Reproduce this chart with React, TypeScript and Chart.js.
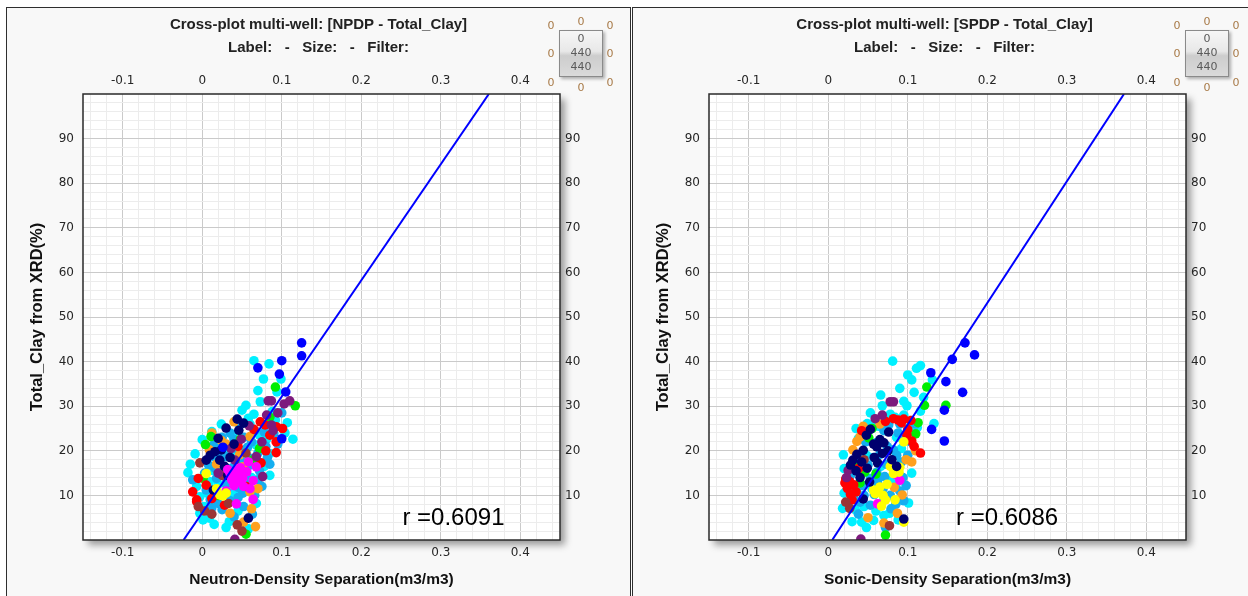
import React, { useEffect, useRef } from 'react';
import { Chart, registerables } from 'chart.js';

Chart.register(...registerables);

// ---------------- axis definitions ----------------
const xRange = [-0.15, 0.45];
const yRange = [0, 100];
const xMajorTicks = [-0.1, 0, 0.1, 0.2, 0.3, 0.4];
const xTickLabels = ['-0.1', '0', '0.1', '0.2', '0.3', '0.4'];
const yMajorTicks = [10, 20, 30, 40, 50, 60, 70, 80, 90];
const yTickLabels = ['10', '20', '30', '40', '50', '60', '70', '80', '90'];

// ---------------- left plot: NPDP vs Total_Clay ----------------
const npdpCyan = [[0.065,40.2],[0.084,39.5],[0.099,36.1],[0.077,36.1],[0.094,33.2],[0.073,31.0],[0.055,30.2],[0.050,29.1],[0.065,28.2],[0.058,27.3],[0.092,26.9],[0.107,26.3],[0.012,24.3],[0.114,22.6],[-0.009,19.3],[-0.018,15.1],[0.038,23.5],[0.072,23.5],[0.081,22.6],[0.068,21.3],[0.020,21.3],[0.033,20.2],[0.043,19.8],[0.085,19.4],[0.009,13.1],[-0.003,9.7],[0.037,10.5],[0.068,8.2],[-0.003,6.0],[0.001,4.5],[0.034,4.1],[0.009,4.9],[0.002,7.5],[0.060,26.0],[0.050,16.0],[0.078,16.5],[0.020,12.5],[0.045,6.5],[-0.007,12.0],[0.015,15.5],[0.062,14.0],[0.030,2.8],[0.006,10.5],[0.024,26.0],[0.088,28.8],[0.104,24.0],[0.070,33.5],[0.048,11.0],[0.015,3.5],[0.058,2.5],[0.085,14.5],[-0.015,17.0],[0.000,22.5]];
const npdpSky = [[0.054,20.2],[0.060,18.3],[0.030,18.7],[0.014,18.7],[0.016,16.1],[0.024,16.8],[0.028,14.2],[0.060,16.8],[0.072,15.5],[0.005,11.2],[0.051,10.5],[0.020,8.2],[0.040,22.5],[0.048,18.0],[0.038,16.2],[0.055,14.5],[0.070,19.5],[0.080,21.0],[0.090,23.8],[0.066,24.5],[0.025,23.0],[0.030,12.5],[0.045,11.8],[0.010,9.0],[0.058,12.5],[0.075,12.0],[0.085,17.0],[0.062,22.0],[0.042,20.5],[0.018,13.8],[0.035,8.8],[0.052,7.5],[-0.012,13.5],[0.003,15.0],[0.066,10.0],[0.047,25.8],[0.100,28.5],[0.015,21.5],[0.035,24.0],[0.052,23.0],[0.045,9.5],[0.025,6.8],[0.012,7.2],[0.070,13.5],[0.082,18.5],[0.057,20.8],[0.022,19.5],[0.008,16.8],[0.040,5.2],[0.063,5.8],[0.078,24.2],[0.095,21.5]];
const npdpOrange = [[0.024,22.3],[0.060,23.2],[0.009,20.2],[0.047,19.1],[0.051,16.4],[0.060,10.8],[0.035,6.0],[0.052,4.0],[0.030,21.5],[0.070,11.5],[0.062,7.0],[0.018,17.0],[0.040,26.5],[0.012,24.0],[0.067,3.0]];
const npdpGreen = [[0.092,34.3],[0.117,30.1],[0.011,23.2],[0.048,22.6],[0.004,21.4],[0.001,13.8],[0.056,12.0],[0.055,1.3],[0.072,20.5],[0.020,10.0],[0.064,18.0],[0.030,16.0],[0.085,27.5]];
const npdpRed = [[0.073,26.5],[0.079,25.8],[0.093,25.4],[0.101,25.0],[0.093,22.0],[0.093,19.6],[0.074,17.3],[-0.005,13.8],[-0.012,10.8],[-0.007,9.0],[0.012,9.3],[0.028,7.8],[-0.007,8.6],[0.085,23.5],[0.065,24.8],[0.055,12.0],[0.080,20.0],[0.005,12.3],[0.045,21.0]];
const npdpBrown = [[-0.003,17.3],[0.033,8.2],[-0.005,7.5],[0.044,3.4],[0.003,6.5],[0.025,14.5],[0.055,19.5],[0.050,2.0],[0.012,5.8]];
const npdpPurple = [[0.083,31.2],[0.087,31.2],[0.103,30.5],[0.110,31.2],[0.081,28.0],[0.087,25.8],[0.059,25.6],[0.089,24.5],[0.049,22.6],[0.068,18.7],[0.041,17.9],[0.076,14.2],[0.041,0.15],[0.075,22.0],[0.020,15.0],[0.095,28.5],[0.036,20.5]];
const npdpNavy = [[0.044,27.1],[0.030,25.1],[0.046,24.6],[0.024,20.2],[0.016,19.8],[0.022,17.9],[0.005,17.9],[0.014,11.2],[0.058,4.9],[0.035,18.5],[0.028,16.5],[0.040,21.5],[0.010,19.0],[0.032,14.5],[0.052,26.2],[0.020,22.8]];
const npdpBlue = [[0.125,44.2],[0.125,41.3],[0.070,38.6],[0.100,40.2],[0.097,37.2],[0.105,33.2],[0.100,22.7],[0.026,20.8]];
const npdpMagenta = [[0.035,14.9],[0.041,14.2],[0.047,14.6],[0.051,13.8],[0.045,13.1],[0.037,13.5],[0.056,15.3],[0.064,13.3],[0.068,16.4],[0.064,9.1],[0.043,8.1],[0.040,12.2],[0.052,12.0],[0.032,15.8],[0.058,17.5],[0.048,16.2],[0.030,11.0],[0.060,11.5],[0.044,15.8]];
const npdpYellow = [[0.005,14.9],[0.022,10.1],[0.026,9.9],[0.030,10.5],[0.018,11.5]];
const npdpFitLine = [[-0.0235,0],[0.3605,100]];
const npdpR = 'r =0.6091';

// ---------------- right plot: SPDP vs Total_Clay ----------------
const spdpCyan = [[0.081,40.1],[0.116,39.1],[0.111,38.5],[0.131,35.9],[0.105,35.9],[0.108,33.1],[0.095,31.1],[0.068,30.1],[0.099,30.1],[0.116,28.9],[0.133,26.1],[0.049,26.1],[0.059,26.5],[0.084,27.5],[0.078,28.2],[0.063,25.5],[0.103,25.5],[0.107,24.3],[0.112,25.2],[0.019,19.1],[0.105,15.0],[0.101,8.3],[0.018,7.1],[0.030,4.1],[0.042,4.0],[0.057,4.4],[0.020,10.5],[0.024,8.0],[0.034,6.8],[0.045,7.5],[0.060,6.5],[0.070,9.0],[0.085,12.5],[0.092,20.5],[0.055,11.5],[0.030,12.0],[0.038,22.8],[0.095,28.0],[0.066,16.5],[0.078,13.8],[0.048,19.0],[0.086,23.0],[0.025,13.5],[0.070,5.5],[0.053,28.5],[0.066,32.5],[0.090,34.0],[0.100,37.0],[0.077,6.0],[0.048,2.8],[0.020,16.0],[0.120,32.0],[0.088,4.5],[0.035,25.0]];
const spdpSky = [[0.088,24.0],[0.096,23.0],[0.057,18.5],[0.065,19.2],[0.074,21.0],[0.082,20.2],[0.073,17.0],[0.061,15.2],[0.053,13.8],[0.044,12.2],[0.036,11.5],[0.069,11.5],[0.078,10.0],[0.090,11.0],[0.098,12.2],[0.065,8.0],[0.053,7.8],[0.040,8.5],[0.032,9.8],[0.083,15.5],[0.092,17.5],[0.100,19.0],[0.047,22.0],[0.039,18.3],[0.058,10.2],[0.094,14.0],[0.071,14.2],[0.062,12.8],[0.085,8.0],[0.104,22.0],[0.076,25.8],[0.028,14.5],[0.045,10.0],[0.050,16.8],[0.060,21.8],[0.070,24.5],[0.086,19.0],[0.079,7.0],[0.072,2.8],[0.038,5.8],[0.026,11.0],[0.064,14.0],[0.095,8.8],[0.110,26.0],[0.090,26.0]];
const spdpOrange = [[0.036,22.1],[0.040,23.1],[0.110,20.0],[0.098,18.0],[0.093,10.1],[0.070,3.8],[0.065,26.0],[0.105,17.5],[0.031,20.2],[0.087,6.0],[0.050,5.0],[0.044,25.5],[0.083,11.8]];
const spdpGreen = [[0.124,34.3],[0.121,30.2],[0.148,30.2],[0.113,26.3],[0.051,22.9],[0.036,16.7],[0.072,1.1],[0.060,14.8],[0.046,15.2],[0.110,23.8],[0.055,25.0],[0.040,12.8]];
const spdpRed = [[0.082,27.2],[0.088,26.9],[0.095,27.1],[0.092,26.3],[0.099,23.5],[0.105,22.2],[0.116,19.5],[0.022,13.7],[0.027,13.1],[0.024,11.6],[0.028,10.2],[0.032,12.4],[0.021,12.8],[0.030,9.0],[0.108,21.0],[0.072,26.6],[0.038,16.0],[0.104,26.8],[0.100,24.8],[0.035,10.8],[0.042,24.5]];
const spdpBrown = [[0.027,7.1],[0.077,3.2],[0.022,8.5],[0.045,18.0]];
const spdpPurple = [[0.078,31.0],[0.082,31.0],[0.068,28.0],[0.059,27.2],[0.025,15.6],[0.041,0.2],[0.023,14.0]];
const spdpNavy = [[0.053,24.8],[0.076,24.2],[0.070,21.8],[0.061,20.9],[0.044,20.1],[0.068,19.4],[0.031,17.9],[0.042,17.5],[0.049,16.1],[0.086,16.5],[0.044,9.2],[0.095,4.7],[0.058,18.5],[0.075,20.0],[0.035,15.5],[0.052,13.0],[0.065,22.5],[0.040,14.0],[0.080,18.0],[0.028,16.8],[0.057,21.5],[0.048,23.5],[0.036,19.2],[0.062,17.3]];
const spdpBlue = [[0.172,44.2],[0.184,41.5],[0.156,40.5],[0.148,35.5],[0.169,33.1],[0.146,29.1],[0.130,24.8],[0.146,22.2],[0.129,37.5]];
const spdpMagenta = [[0.090,13.4],[0.062,8.1],[0.086,14.6]];
const spdpYellow = [[0.095,22.0],[0.082,14.9],[0.089,15.2],[0.061,10.7],[0.065,11.9],[0.059,10.4],[0.057,11.2],[0.095,4.0],[0.074,12.5],[0.069,10.0],[0.090,16.3],[0.084,9.0],[0.067,7.6],[0.078,16.5],[0.072,9.0]];
const spdpFitLine = [[0.005,0],[0.372,100]];
const spdpR = 'r =0.6086';

// ---------------- styling ----------------
const PALETTE: Record<string, string> = {
  cyan: '#00f0ff', sky: '#14aef0', orange: '#ffa01e', green: '#00ee00', red: '#ff0000',
  brown: '#9b3535', purple: '#7d1a7d', navy: '#00006e', blue: '#0000ff', magenta: '#ff00ff', yellow: '#ffff00',
};
const FRAME_W = 625;
const CANVAS_W = 623;
const CANVAS_H = 589;
const AREA = { left: 76, right: 553, top: 86, bottom: 532 };

const xGridValues: number[] = [];
for (let i = -7; i <= 22; i++) xGridValues.push(Math.round(i * 2) / 100);
const yGridValues: number[] = [];
for (let v = 2; v <= 98; v += 2) yGridValues.push(v);

const isMajorX = (v: number) => xMajorTicks.some((m) => Math.abs(m - v) < 1e-9);
const isMajorY = (v: number) => yMajorTicks.includes(v);
const xLabel = (v: number) => { const i = xMajorTicks.findIndex((m) => Math.abs(m - v) < 1e-9); return i >= 0 ? xTickLabels[i] : ''; };
const yLabel = (v: number) => { const i = yMajorTicks.indexOf(v); return i >= 0 ? yTickLabels[i] : ''; };

const tickFont = { family: '"DejaVu Sans", sans-serif', size: 12 };
const TICK_COLOR = '#262626';
const headFont = { family: '"Liberation Sans", Arial, sans-serif', size: 15, weight: 'bold' };

type SeriesSet = { [k: string]: number[][] };

interface PlotProps {
  title: string;
  xTitle: string;
  series: SeriesSet;
  fit: number[][];
  rText: string;
  rAt: [number, number];
}

function CrossPlot({ title, xTitle, series, fit, rText, rAt }: PlotProps) {
  const ref = useRef<HTMLCanvasElement>(null);
  useEffect(() => {
    const canvas = ref.current;
    if (!canvas) return;
    const keys = Object.keys(series);
    const scatterSets = keys.map((k, idx) => ({
      type: 'scatter' as const,
      label: k,
      data: series[k].map(([x, y]) => ({ x, y })),
      backgroundColor: PALETTE[k],
      borderWidth: 0,
      pointRadius: 4.8,
      pointHoverRadius: 4.8,
      clip: 0,
      order: 100 - idx,
    }));
    const lineSet = {
      type: 'line' as const,
      label: 'fit',
      data: fit.map(([x, y]) => ({ x, y })),
      borderColor: '#0000ff',
      borderWidth: 2,
      pointRadius: 0,
      fill: false,
      showLine: true,
      clip: 0,
      order: 0,
    };

    const frame = {
      id: 'frame',
      beforeDraw(chart: any) {
        const { ctx, chartArea: a } = chart;
        ctx.save();
        ctx.shadowColor = 'rgba(0,0,0,0.38)';
        ctx.shadowBlur = 7;
        ctx.shadowOffsetX = 5;
        ctx.shadowOffsetY = 5;
        ctx.fillStyle = '#ffffff';
        ctx.fillRect(a.left, a.top, a.right - a.left, a.bottom - a.top);
        ctx.restore();
      },
      afterDatasetsDraw(chart: any) {
        const { ctx, chartArea: a, scales } = chart;
        ctx.save();
        ctx.strokeStyle = '#2a2a2a';
        ctx.lineWidth = 1.5;
        ctx.strokeRect(a.left, a.top, a.right - a.left, a.bottom - a.top);
        ctx.fillStyle = '#000';
        ctx.font = '24px "Liberation Sans", Arial, sans-serif';
        ctx.textAlign = 'center';
        ctx.textBaseline = 'middle';
        ctx.fillText(rText, scales.x.getPixelForValue(rAt[0]), scales.y.getPixelForValue(rAt[1]));
        ctx.restore();
      },
    };

    const xTicks = (s: any) => { s.ticks = xGridValues.map((value) => ({ value })); };
    const yTicks = (s: any) => { s.ticks = yGridValues.map((value) => ({ value })); };

    const chart = new Chart(canvas, {
      type: 'scatter',
      data: { datasets: [...scatterSets, lineSet] as any },
      plugins: [frame],
      options: {
        responsive: false,
        animation: false,
        events: [],
        layout: { padding: 0 },
        plugins: {
          legend: { display: false },
          tooltip: { enabled: false },
          title: {
            display: true,
            text: title,
            color: '#222',
            font: headFont,
            padding: { top: 8, bottom: 5 },
          },
          subtitle: {
            display: true,
            text: 'Label:   -   Size:   -   Filter:',
            color: '#222',
            font: headFont,
            padding: { top: 0, bottom: 4 },
          },
        },
        scales: {
          x: {
            type: 'linear', axis: 'x', position: 'bottom',
            min: xRange[0], max: xRange[1],
            afterBuildTicks: xTicks,
            afterFit: (s: any) => { s.height = CANVAS_H - AREA.bottom; },
            ticks: { callback: (v: any) => xLabel(Number(v)), autoSkip: false, maxRotation: 0, minRotation: 0, padding: 6, font: tickFont, color: TICK_COLOR },
            grid: { color: (c: any) => (c.tick && isMajorX(c.tick.value) ? '#cacaca' : '#ececec'), lineWidth: 1, drawTicks: false },
            border: { display: false },
            title: { display: true, text: xTitle, color: '#111', font: { family: '"Liberation Sans", Arial, sans-serif', size: 15.5, weight: 'bold' }, padding: { top: 0, bottom: 7.7 } },
          },
          x2: {
            type: 'linear', axis: 'x', position: 'top',
            min: xRange[0], max: xRange[1],
            afterBuildTicks: xTicks,
            afterFit: (s: any) => { s.height = 33; },
            ticks: { callback: (v: any) => xLabel(Number(v)), autoSkip: false, maxRotation: 0, minRotation: 0, padding: 6, font: tickFont, color: TICK_COLOR },
            grid: { display: false, drawTicks: false },
            border: { display: false },
          },
          y: {
            type: 'linear', axis: 'y', position: 'left',
            min: yRange[0], max: yRange[1],
            afterBuildTicks: yTicks,
            afterFit: (s: any) => { s.width = AREA.left; },
            ticks: { callback: (v: any) => yLabel(Number(v)), autoSkip: false, padding: 9, font: tickFont, color: TICK_COLOR },
            grid: { color: (c: any) => (c.tick && isMajorY(c.tick.value) ? '#cacaca' : '#ececec'), lineWidth: 1, drawTicks: false },
            border: { display: false },
            title: { display: true, text: 'Total_Clay from XRD(%)', color: '#111', font: { family: '"Liberation Sans", Arial, sans-serif', size: 16.5, weight: 'bold' }, padding: { top: 21, bottom: 0 } },
          },
          y2: {
            type: 'linear', axis: 'y', position: 'right',
            min: yRange[0], max: yRange[1],
            afterBuildTicks: yTicks,
            afterFit: (s: any) => { s.width = CANVAS_W - AREA.right; },
            ticks: { callback: (v: any) => yLabel(Number(v)), autoSkip: false, padding: 5, font: tickFont, color: TICK_COLOR },
            grid: { display: false, drawTicks: false },
            border: { display: false },
          },
        },
      } as any,
    });
    return () => chart.destroy();
  }, []);
  return (
    <canvas
      ref={ref}
      width={CANVAS_W}
      height={CANVAS_H}
      style={{ position: 'absolute', left: 0, top: 0, width: CANVAS_W, height: CANVAS_H }}
    />
  );
}

const outerZeros: [number, number][] = [[544, 17], [574, 12.7], [603, 17], [544, 45.3], [603, 45.3], [544, 73.7], [574, 79.3], [603, 73.7]];
const widgetLines = ['0', '440', '440'];

function Widget() {
  const numFont = '11px "DejaVu Sans", sans-serif';
  return (
    <>
      {outerZeros.map(([x, y], i) => (
        <div key={i} style={{ position: 'absolute', left: x, top: y, transform: 'translate(-50%, -50%)', font: numFont, color: '#a87a48' }}>0</div>
      ))}
      <div
        style={{
          position: 'absolute', left: 552, top: 22, width: 42, height: 44,
          border: '1px solid #8a8a8a',
          background: 'linear-gradient(to bottom, #f6f6f6 0%, #e8e8e8 45%, #cdcdcd 55%, #dadada 100%)',
          boxShadow: '2px 2px 3px rgba(0,0,0,0.3)',
          display: 'flex', flexDirection: 'column', alignItems: 'center',
          font: numFont, color: '#5a5a5a', lineHeight: '14.2px', paddingTop: 1, boxSizing: 'content-box',
        }}
      >
        {widgetLines.map((t, i) => (<div key={i}>{t}</div>))}
      </div>
    </>
  );
}

function Panel({ left, children }: { left: number; children: React.ReactNode }) {
  return (
    <div
      style={{
        position: 'absolute', left, top: 7, width: FRAME_W, height: 620,
        border: '1px solid #2e2e2e', boxSizing: 'border-box', background: '#f8f8f8', overflow: 'hidden',
      }}
    >
      {children}
      <Widget />
    </div>
  );
}

export default function App() {
  const npdpSeries: SeriesSet = {
    cyan: npdpCyan, sky: npdpSky, orange: npdpOrange, green: npdpGreen, red: npdpRed, brown: npdpBrown,
    purple: npdpPurple, navy: npdpNavy, blue: npdpBlue, magenta: npdpMagenta, yellow: npdpYellow,
  };
  const spdpSeries: SeriesSet = {
    cyan: spdpCyan, sky: spdpSky, orange: spdpOrange, green: spdpGreen, red: spdpRed, brown: spdpBrown,
    purple: spdpPurple, magenta: spdpMagenta, yellow: spdpYellow, navy: spdpNavy, blue: spdpBlue,
  };
  return (
    <div style={{ position: 'absolute', left: 0, top: 0, width: 1248, height: 596, overflow: 'hidden', background: '#ffffff' }}>
      <Panel left={6}>
        <CrossPlot title="Cross-plot multi-well: [NPDP - Total_Clay]" xTitle="Neutron-Density Separation(m3/m3)" series={npdpSeries} fit={npdpFitLine} rText={npdpR} rAt={[0.316, 4.9]} />
      </Panel>
      <Panel left={632}>
        <CrossPlot title="Cross-plot multi-well: [SPDP - Total_Clay]" xTitle="Sonic-Density Separation(m3/m3)" series={spdpSeries} fit={spdpFitLine} rText={spdpR} rAt={[0.225, 4.9]} />
      </Panel>
    </div>
  );
}
